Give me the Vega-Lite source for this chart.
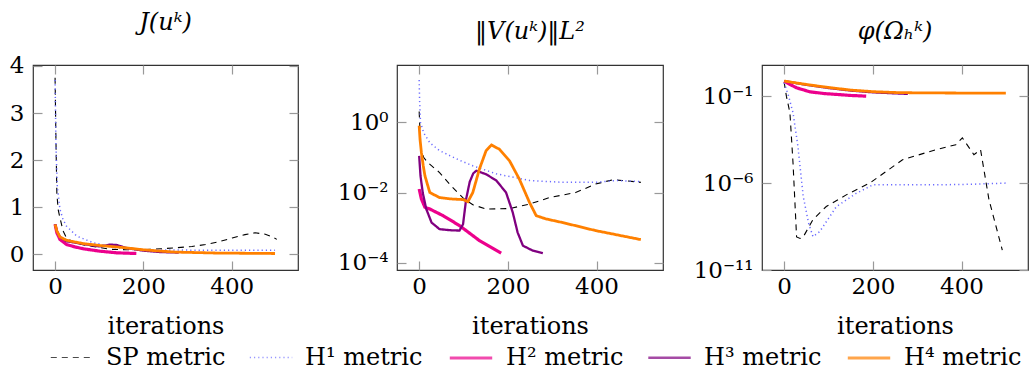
{
  "$schema": "https://vega.github.io/schema/vega-lite/v6.json",
  "padding": {"left": 8, "top": 10, "right": 5, "bottom": 5},
  "bounds": "flush",
  "spacing": 99,
  "config": {
    "font": "DejaVu Serif",
    "view": {"stroke": "#333333", "strokeWidth": 1.2},
    "axis": {
      "labelFont": "DejaVu Serif", "labelFontSize": 23, "labelColor": "#000000",
      "titleFont": "DejaVu Serif", "titleFontSize": 24, "titleFontWeight": "normal", "titleColor": "#000000",
      "tickColor": "#999999", "tickSize": -9, "tickWidth": 1.2, "domain": false, "grid": false, "labelPadding": 18
    },
    "axisX": {"labelPadding": 14, "titlePadding": 16},
    "title": {"font": "DejaVu Serif", "fontSize": 24, "fontWeight": "normal", "fontStyle": "italic", "color": "#000000", "offset": 20},
    "legend": {"labelFont": "DejaVu Serif", "labelFontSize": 24, "labelColor": "#000000"}
  },
  "datasets": {
    "j": [
      {"m":"SP metric","k":0,"v":3.75},{"m":"SP metric","k":2,"v":2.4},{"m":"SP metric","k":4,"v":1.3},{"m":"SP metric","k":7,"v":0.95},{"m":"SP metric","k":11,"v":0.78},{"m":"SP metric","k":18,"v":0.5},{"m":"SP metric","k":26,"v":0.35},{"m":"SP metric","k":40,"v":0.27},{"m":"SP metric","k":60,"v":0.21},{"m":"SP metric","k":86,"v":0.17},{"m":"SP metric","k":124,"v":0.11},{"m":"SP metric","k":160,"v":0.1},{"m":"SP metric","k":199,"v":0.1},{"m":"SP metric","k":240,"v":0.12},{"m":"SP metric","k":273,"v":0.14},{"m":"SP metric","k":310,"v":0.17},{"m":"SP metric","k":341,"v":0.21},{"m":"SP metric","k":375,"v":0.28},{"m":"SP metric","k":401,"v":0.35},{"m":"SP metric","k":430,"v":0.42},{"m":"SP metric","k":453,"v":0.46},{"m":"SP metric","k":476,"v":0.43},{"m":"SP metric","k":490,"v":0.38},{"m":"SP metric","k":502,"v":0.32},
      {"m":"H¹ metric","k":0,"v":3.7},{"m":"H¹ metric","k":2,"v":2.3},{"m":"H¹ metric","k":5,"v":1.45},{"m":"H¹ metric","k":11,"v":0.96},{"m":"H¹ metric","k":18,"v":0.74},{"m":"H¹ metric","k":26,"v":0.6},{"m":"H¹ metric","k":49,"v":0.39},{"m":"H¹ metric","k":86,"v":0.25},{"m":"H¹ metric","k":139,"v":0.14},{"m":"H¹ metric","k":199,"v":0.1},{"m":"H¹ metric","k":260,"v":0.095},{"m":"H¹ metric","k":326,"v":0.09},{"m":"H¹ metric","k":400,"v":0.09},{"m":"H¹ metric","k":498,"v":0.09},
      {"m":"H² metric","k":0,"v":0.64},{"m":"H² metric","k":4,"v":0.46},{"m":"H² metric","k":11,"v":0.32},{"m":"H² metric","k":26,"v":0.21},{"m":"H² metric","k":45,"v":0.16},{"m":"H² metric","k":64,"v":0.12},{"m":"H² metric","k":101,"v":0.07},{"m":"H² metric","k":139,"v":0.035},{"m":"H² metric","k":184,"v":0.02},
      {"m":"H³ metric","k":0,"v":0.64},{"m":"H³ metric","k":4,"v":0.5},{"m":"H³ metric","k":11,"v":0.37},{"m":"H³ metric","k":26,"v":0.28},{"m":"H³ metric","k":64,"v":0.22},{"m":"H³ metric","k":101,"v":0.17},{"m":"H³ metric","k":115,"v":0.19},{"m":"H³ metric","k":125,"v":0.21},{"m":"H³ metric","k":140,"v":0.2},{"m":"H³ metric","k":160,"v":0.14},{"m":"H³ metric","k":200,"v":0.08},{"m":"H³ metric","k":240,"v":0.05},{"m":"H³ metric","k":280,"v":0.04},
      {"m":"H⁴ metric","k":0,"v":0.64},{"m":"H⁴ metric","k":4,"v":0.5},{"m":"H⁴ metric","k":11,"v":0.37},{"m":"H⁴ metric","k":26,"v":0.3},{"m":"H⁴ metric","k":64,"v":0.23},{"m":"H⁴ metric","k":101,"v":0.19},{"m":"H⁴ metric","k":139,"v":0.16},{"m":"H⁴ metric","k":170,"v":0.13},{"m":"H⁴ metric","k":199,"v":0.1},{"m":"H⁴ metric","k":240,"v":0.07},{"m":"H⁴ metric","k":273,"v":0.05},{"m":"H⁴ metric","k":320,"v":0.04},{"m":"H⁴ metric","k":363,"v":0.03},{"m":"H⁴ metric","k":430,"v":0.025},{"m":"H⁴ metric","k":498,"v":0.02}
    ],
    "v": [
      {"m":"SP metric","k":0,"v":2.0},{"m":"SP metric","k":2,"v":0.5},{"m":"SP metric","k":5,"v":0.16},{"m":"SP metric","k":10,"v":0.1},{"m":"SP metric","k":20,"v":0.07},{"m":"SP metric","k":46,"v":0.037},{"m":"SP metric","k":70,"v":0.0166},{"m":"SP metric","k":100,"v":0.0068},{"m":"SP metric","k":121,"v":0.0045},{"m":"SP metric","k":151,"v":0.0034},{"m":"SP metric","k":204,"v":0.0035},{"m":"SP metric","k":249,"v":0.0047},{"m":"SP metric","k":294,"v":0.0072},{"m":"SP metric","k":353,"v":0.01},{"m":"SP metric","k":398,"v":0.0174},{"m":"SP metric","k":436,"v":0.023},{"m":"SP metric","k":458,"v":0.022},{"m":"SP metric","k":500,"v":0.0195},
      {"m":"H¹ metric","k":0,"v":15.8},{"m":"H¹ metric","k":1,"v":4},{"m":"H¹ metric","k":3,"v":1},{"m":"H¹ metric","k":10,"v":0.5},{"m":"H¹ metric","k":24,"v":0.26},{"m":"H¹ metric","k":45,"v":0.158},{"m":"H¹ metric","k":69,"v":0.112},{"m":"H¹ metric","k":95,"v":0.079},{"m":"H¹ metric","k":121,"v":0.0575},{"m":"H¹ metric","k":174,"v":0.034},{"m":"H¹ metric","k":249,"v":0.022},{"m":"H¹ metric","k":324,"v":0.0195},{"m":"H¹ metric","k":398,"v":0.0195},{"m":"H¹ metric","k":443,"v":0.022},{"m":"H¹ metric","k":500,"v":0.0204},
      {"m":"H² metric","k":0,"v":0.0126},{"m":"H² metric","k":5,"v":0.0066},{"m":"H² metric","k":13,"v":0.0038},{"m":"H² metric","k":24,"v":0.0034},{"m":"H² metric","k":54,"v":0.0022},{"m":"H² metric","k":91,"v":0.00115},{"m":"H² metric","k":136,"v":0.00043},{"m":"H² metric","k":185,"v":0.00019},
      {"m":"H³ metric","k":0,"v":0.11},{"m":"H³ metric","k":3,"v":0.03},{"m":"H³ metric","k":8,"v":0.01},{"m":"H³ metric","k":16,"v":0.0034},{"m":"H³ metric","k":28,"v":0.0014},{"m":"H³ metric","k":46,"v":0.00091},{"m":"H³ metric","k":70,"v":0.00085},{"m":"H³ metric","k":91,"v":0.00083},{"m":"H³ metric","k":99,"v":0.00126},{"m":"H³ metric","k":106,"v":0.0066},{"m":"H³ metric","k":114,"v":0.02},{"m":"H³ metric","k":122,"v":0.035},{"m":"H³ metric","k":129,"v":0.0417},{"m":"H³ metric","k":151,"v":0.033},{"m":"H³ metric","k":174,"v":0.022},{"m":"H³ metric","k":196,"v":0.01},{"m":"H³ metric","k":211,"v":0.00275},{"m":"H³ metric","k":222,"v":0.00074},{"m":"H³ metric","k":234,"v":0.00031},{"m":"H³ metric","k":256,"v":0.000224},{"m":"H³ metric","k":279,"v":0.00019},
      {"m":"H⁴ metric","k":0,"v":0.79},{"m":"H⁴ metric","k":2,"v":0.32},{"m":"H⁴ metric","k":5,"v":0.138},{"m":"H⁴ metric","k":9,"v":0.06},{"m":"H⁴ metric","k":13,"v":0.03},{"m":"H⁴ metric","k":24,"v":0.01},{"m":"H⁴ metric","k":46,"v":0.0072},{"m":"H⁴ metric","k":70,"v":0.0066},{"m":"H⁴ metric","k":99,"v":0.0063},{"m":"H⁴ metric","k":110,"v":0.0055},{"m":"H⁴ metric","k":121,"v":0.01},{"m":"H⁴ metric","k":136,"v":0.047},{"m":"H⁴ metric","k":151,"v":0.155},{"m":"H⁴ metric","k":163,"v":0.224},{"m":"H⁴ metric","k":181,"v":0.17},{"m":"H⁴ metric","k":204,"v":0.079},{"m":"H⁴ metric","k":226,"v":0.024},{"m":"H⁴ metric","k":249,"v":0.0052},{"m":"H⁴ metric","k":264,"v":0.0022},{"m":"H⁴ metric","k":286,"v":0.00178},{"m":"H⁴ metric","k":324,"v":0.0014},{"m":"H⁴ metric","k":398,"v":0.00083},{"m":"H⁴ metric","k":500,"v":0.00046}
    ],
    "phi": [
      {"m":"SP metric","k":0,"v":0.646},{"m":"SP metric","k":5,"v":0.1},{"m":"SP metric","k":13,"v":0.011},{"m":"SP metric","k":20,"v":1.4e-5},{"m":"SP metric","k":28,"v":8e-10},{"m":"SP metric","k":36,"v":6.5e-10},{"m":"SP metric","k":43,"v":8e-10},{"m":"SP metric","k":65,"v":7.9e-9},{"m":"SP metric","k":95,"v":4.5e-8},{"m":"SP metric","k":140,"v":2.1e-7},{"m":"SP metric","k":193,"v":1e-6},{"m":"SP metric","k":267,"v":2.2e-5},{"m":"SP metric","k":342,"v":8.3e-5},{"m":"SP metric","k":387,"v":1.6e-4},{"m":"SP metric","k":402,"v":4e-4},{"m":"SP metric","k":428,"v":4.3e-5},{"m":"SP metric","k":443,"v":8.3e-5},{"m":"SP metric","k":462,"v":1.1e-7},{"m":"SP metric","k":492,"v":1.4e-10},
      {"m":"H¹ metric","k":0,"v":0.59},{"m":"H¹ metric","k":10,"v":0.1},{"m":"H¹ metric","k":20,"v":0.011},{"m":"H¹ metric","k":31,"v":1.3e-4},{"m":"H¹ metric","k":43,"v":1.7e-7},{"m":"H¹ metric","k":55,"v":5e-9},{"m":"H¹ metric","k":65,"v":8.3e-10},{"m":"H¹ metric","k":80,"v":1.6e-9},{"m":"H¹ metric","k":118,"v":4.5e-8},{"m":"H¹ metric","k":163,"v":2.6e-7},{"m":"H¹ metric","k":200,"v":7.9e-7},{"m":"H¹ metric","k":267,"v":7.9e-7},{"m":"H¹ metric","k":342,"v":7.9e-7},{"m":"H¹ metric","k":420,"v":8.5e-7},{"m":"H¹ metric","k":500,"v":1e-6},
      {"m":"H² metric","k":0,"v":0.74},{"m":"H² metric","k":15,"v":0.447},{"m":"H² metric","k":28,"v":0.302},{"m":"H² metric","k":58,"v":0.178},{"m":"H² metric","k":90,"v":0.141},{"m":"H² metric","k":118,"v":0.126},{"m":"H² metric","k":150,"v":0.11},{"m":"H² metric","k":185,"v":0.1},
      {"m":"H³ metric","k":0,"v":0.74},{"m":"H³ metric","k":50,"v":0.447},{"m":"H³ metric","k":100,"v":0.295},{"m":"H³ metric","k":150,"v":0.209},{"m":"H³ metric","k":200,"v":0.166},{"m":"H³ metric","k":250,"v":0.145},{"m":"H³ metric","k":279,"v":0.135},
      {"m":"H⁴ metric","k":0,"v":0.74},{"m":"H⁴ metric","k":50,"v":0.47},{"m":"H⁴ metric","k":100,"v":0.316},{"m":"H⁴ metric","k":150,"v":0.224},{"m":"H⁴ metric","k":200,"v":0.182},{"m":"H⁴ metric","k":250,"v":0.162},{"m":"H⁴ metric","k":300,"v":0.155},{"m":"H⁴ metric","k":400,"v":0.151},{"m":"H⁴ metric","k":500,"v":0.151}
    ]
  },
  "hconcat": [
    {
      "width": 265, "height": 205,
      "title": "J(uᵏ)",
      "data": {"name": "j"},
      "layer": [
        {
          "mark": {"type": "line", "clip": true},
          "encoding": {
            "x": {"field": "k", "type": "quantitative", "scale": {"domain": [-50, 550], "nice": false, "zero": false}, "axis": {"values": [0, 200, 400], "title": "iterations"}},
            "y": {"field": "v", "type": "quantitative", "scale": {"domain": [-0.33, 4.02], "nice": false, "zero": false}, "axis": {"values": [0, 1, 2, 3, 4], "title": null}},
            "color": {"field": "m", "type": "nominal", "title": null,
              "scale": {"domain": ["SP metric", "H¹ metric", "H² metric", "H³ metric", "H⁴ metric"], "range": ["#000000", "#6a6aff", "#ec008c", "#800080", "#ff8000"]},
              "legend": {"orient": "none", "direction": "horizontal", "legendX": 17, "legendY": 270, "symbolType": "stroke", "symbolSize": 1800, "symbolStrokeWidth": 1.6, "symbolOpacity": 0.7, "labelOffset": 12, "columnPadding": 18, "gridAlign": "all"}},
            "strokeDash": {"field": "m", "type": "nominal", "title": null,
              "scale": {"domain": ["SP metric", "H¹ metric", "H² metric", "H³ metric", "H⁴ metric"], "range": [[6, 5], [1.2, 3], [1, 0], [1, 0], [1, 0]]}},
            "strokeWidth": {"field": "m", "type": "ordinal", "legend": null,
              "scale": {"type": "ordinal", "domain": ["SP metric", "H¹ metric", "H² metric", "H³ metric", "H⁴ metric"], "range": [1.1, 1.5, 3.2, 2.3, 2.8]}}
          }
        },
        {
          "mark": {"type": "line", "opacity": 0},
          "encoding": {
            "x": {"field": "k", "type": "quantitative", "axis": {"orient": "top", "values": [0, 200, 400], "labels": false, "title": null}},
            "y": {"field": "v", "type": "quantitative", "axis": {"orient": "right", "values": [0, 1, 2, 3, 4], "labels": false, "title": null}}
          }
        }
      ],
      "resolve": {"axis": {"x": "independent", "y": "independent"}}
    },
    {
      "width": 266, "height": 205,
      "title": "‖V(uᵏ)‖L²",
      "data": {"name": "v"},
      "layer": [
        {
          "mark": {"type": "line", "clip": true},
          "encoding": {
            "x": {"field": "k", "type": "quantitative", "scale": {"domain": [-50, 550], "nice": false, "zero": false}, "axis": {"values": [0, 200, 400], "title": "iterations"}},
            "y": {"field": "v", "type": "quantitative", "scale": {"type": "log", "domain": [6.3e-5, 42], "nice": false}, "axis": {"values": [0.0001, 0.01, 1], "title": null, "labelExpr": "datum.value > 0.5 ? '10⁰' : datum.value > 0.005 ? '10⁻²' : '10⁻⁴'"}},
            "color": {"field": "m", "type": "nominal", "title": null},
            "strokeDash": {"field": "m", "type": "nominal", "title": null},
            "strokeWidth": {"field": "m", "type": "ordinal", "legend": null,
              "scale": {"type": "ordinal", "domain": ["SP metric", "H¹ metric", "H² metric", "H³ metric", "H⁴ metric"], "range": [1.1, 1.5, 3.2, 2.3, 2.8]}}
          }
        },
        {
          "mark": {"type": "line", "opacity": 0},
          "encoding": {
            "x": {"field": "k", "type": "quantitative", "axis": {"orient": "top", "values": [0, 200, 400], "labels": false, "title": null}},
            "y": {"field": "v", "type": "quantitative", "axis": {"orient": "right", "values": [0.0001, 0.01, 1], "labels": false, "title": null}}
          }
        }
      ],
      "resolve": {"axis": {"x": "independent", "y": "independent"}}
    },
    {
      "width": 266, "height": 205,
      "title": "φ(Ωₕᵏ)",
      "data": {"name": "phi"},
      "layer": [
        {
          "mark": {"type": "line", "clip": true},
          "encoding": {
            "x": {"field": "k", "type": "quantitative", "scale": {"domain": [-50, 550], "nice": false, "zero": false}, "axis": {"values": [0, 200, 400], "title": "iterations"}},
            "y": {"field": "v", "type": "quantitative", "scale": {"type": "log", "domain": [1e-11, 6.2], "nice": false}, "axis": {"values": [1e-11, 1e-6, 0.1], "title": null, "labelExpr": "datum.value > 0.01 ? '10⁻¹' : datum.value > 1e-8 ? '10⁻⁶' : '10⁻¹¹'"}},
            "color": {"field": "m", "type": "nominal", "title": null},
            "strokeDash": {"field": "m", "type": "nominal", "title": null},
            "strokeWidth": {"field": "m", "type": "ordinal", "legend": null,
              "scale": {"type": "ordinal", "domain": ["SP metric", "H¹ metric", "H² metric", "H³ metric", "H⁴ metric"], "range": [1.1, 1.5, 3.2, 2.3, 2.8]}}
          }
        },
        {
          "mark": {"type": "line", "opacity": 0},
          "encoding": {
            "x": {"field": "k", "type": "quantitative", "axis": {"orient": "top", "values": [0, 200, 400], "labels": false, "title": null}},
            "y": {"field": "v", "type": "quantitative", "axis": {"orient": "right", "values": [1e-11, 1e-6, 0.1], "labels": false, "title": null}}
          }
        }
      ],
      "resolve": {"axis": {"x": "independent", "y": "independent"}}
    }
  ]
}
